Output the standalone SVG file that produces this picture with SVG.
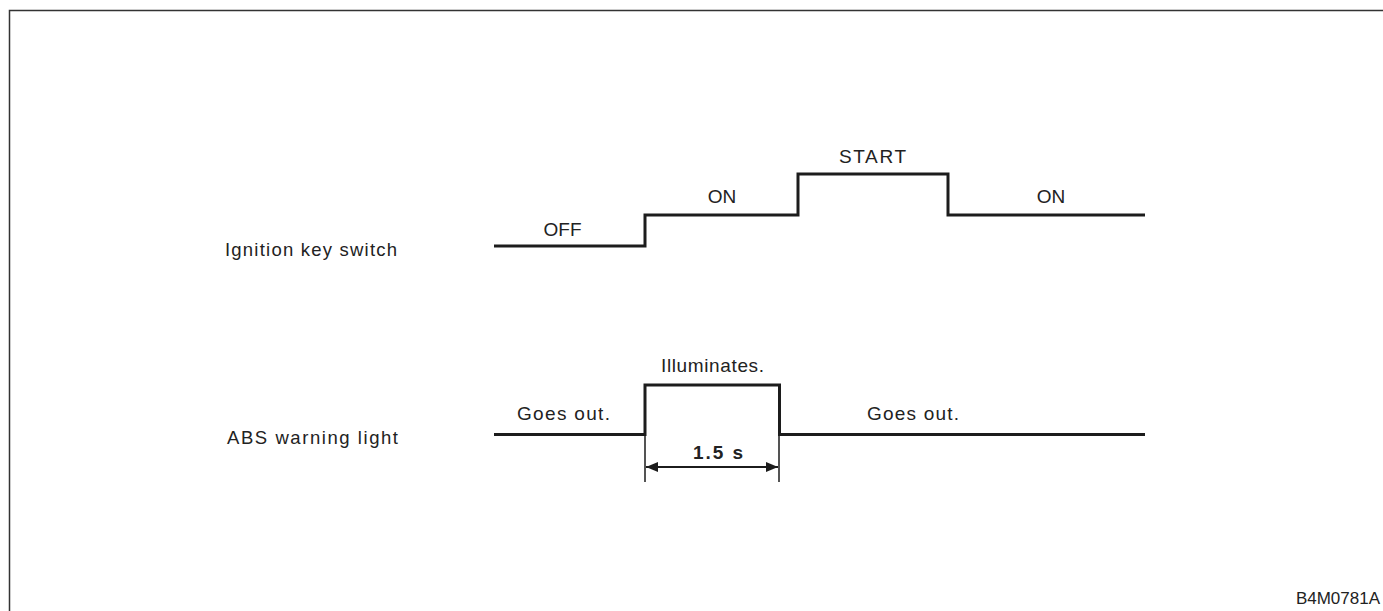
<svg xmlns="http://www.w3.org/2000/svg" width="1383" height="611" viewBox="0 0 1383 611">
<defs>
<style>
text{font-family:"Liberation Sans",Arial,sans-serif;fill:#222;}
.lbl{font-size:18.5px;}
.st{font-size:19px;}
.wave{fill:none;stroke:#1c1c1c;stroke-width:3;stroke-linejoin:miter;}
.dim{stroke:#1c1c1c;stroke-width:2;fill:none;}
.ext{stroke:#1c1c1c;stroke-width:1.5;fill:none;}
</style>
<marker id="ah" viewBox="0 0 12 10" refX="12" refY="5" markerWidth="12" markerHeight="10" markerUnits="userSpaceOnUse" orient="auto-start-reverse">
<path d="M0,0 L12,5 L0,10 Z" fill="#1c1c1c"/>
</marker>
</defs>
<rect width="1383" height="611" fill="#fff"/>
<path d="M9.5,620 L9.5,10.5 L1390,10.5" fill="none" stroke="#333" stroke-width="1.5"/>

<g id="ignition">
<text class="lbl" x="225" y="256" textLength="172" lengthAdjust="spacing">Ignition key switch</text>
<text class="st" x="562.5" y="236" text-anchor="middle">OFF</text>
<text class="st" x="722" y="203" text-anchor="middle">ON</text>
<text class="st" x="872.5" y="163" text-anchor="middle" textLength="67" lengthAdjust="spacing">START</text>
<text class="st" x="1051" y="203" text-anchor="middle">ON</text>
</g>

<g id="abs">
<text class="lbl" x="227" y="444" textLength="171" lengthAdjust="spacing">ABS warning light</text>
<text class="st" x="517" y="420" textLength="93" lengthAdjust="spacing">Goes out.</text>
<text class="st" x="661" y="372" textLength="103" lengthAdjust="spacing">Illuminates.</text>
<text class="st" x="867" y="420" textLength="92" lengthAdjust="spacing">Goes out.</text>
<text x="693" y="459" style="font-size:19px;font-weight:bold" textLength="50" lengthAdjust="spacing">1.5 s</text>
</g>

<g id="connectors">
<path class="wave" d="M494,246 H645 V215 H798 V174 H948 V215 H1145"/>
<path class="wave" d="M494,434.5 H645 V385 H779.5 V434.5 H1145"/>
<path class="ext" d="M645,436 V482 M779,436 V482"/>
<path class="dim" d="M646,467 H778" marker-start="url(#ah)" marker-end="url(#ah)"/>
</g>

<text x="1380" y="604" text-anchor="end" style="font-size:17px">B4M0781A</text>
</svg>
